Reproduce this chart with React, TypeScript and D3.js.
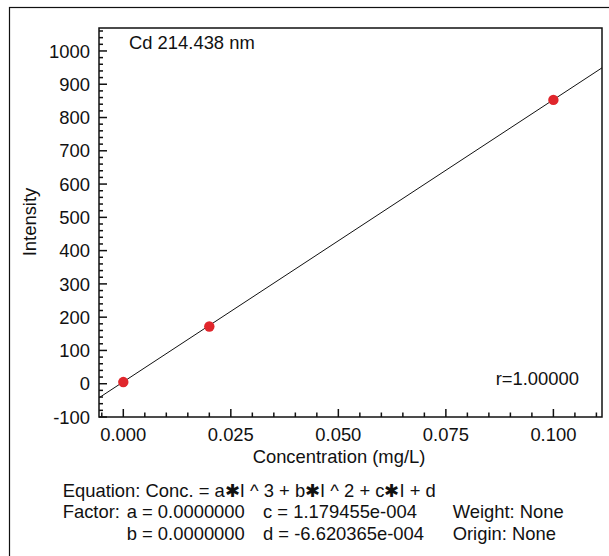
import React from "react";
import * as d3 from "d3";

const concentrations = [0.0, 0.02, 0.1];
const intensities = [5, 172, 853];
const xTicks = [0.0, 0.025, 0.05, 0.075, 0.1];
const yTicks = [-100, 0, 100, 200, 300, 400, 500, 600, 700, 800, 900, 1000];
const coefC = 1.179455e-4;
const coefD = -6.620365e-4;
const title = "Cd 214.438 nm";
const rText = "r=1.00000";
const xLabel = "Concentration (mg/L)";
const yLabel = "Intensity";

const W = 609;
const H = 556;
const left = 99;
const right = 602;
const top = 28;
const bottom = 417;
const FONT = "'Liberation Sans', Arial, sans-serif";
const FS = 18.4;

export default function App() {
  const x = d3.scaleLinear().domain([-0.00565, 0.1113]).range([left, right]);
  const y = d3.scaleLinear().domain([-100, 1069]).range([bottom, top]);

  const xMinor = d3.range(-0.005, 0.1113, 0.005).filter(
    (v) => !xTicks.some((t) => Math.abs(t - v) < 1e-9)
  );
  const yMinor = d3.range(-80, 1069, 20).filter((v) => Math.round(v) % 100 !== 0);

  const lineX = x.domain();
  const linePts: [number, number][] = lineX.map((c) => [c, (c - coefD) / coefC]);
  const line = d3
    .line<[number, number]>()
    .x((d) => x(d[0]))
    .y((d) => y(d[1]));

  return (
    <svg
      width={W}
      height={H}
      style={{ position: "absolute", left: 0, top: 0, background: "#fff" }}
      fontFamily={FONT}
    >
      <rect x={0} y={0} width={W} height={H} fill="#fff" />
      <rect x={9.5} y={7.5} width={W + 10} height={H + 10} fill="none" stroke="#111" strokeWidth={1.2} />

      <defs>
        <clipPath id="plotclip">
          <rect x={left} y={top} width={right - left} height={bottom - top} />
        </clipPath>
      </defs>

      {/* fit line */}
      <path d={line(linePts) || ""} fill="none" stroke="#111" strokeWidth={1} clipPath="url(#plotclip)" />

      {/* points */}
      {concentrations.map((c, i) => (
        <circle key={i} cx={x(c)} cy={y(intensities[i])} r={5.2} fill="#e0262c" />
      ))}

      {/* plot frame */}
      <rect x={left} y={top} width={right - left} height={bottom - top} fill="none" stroke="#111" strokeWidth={1.5} />

      {/* y ticks */}
      {yTicks.map((t) => (
        <g key={"y" + t}>
          <line x1={left} x2={left + 8} y1={y(t)} y2={y(t)} stroke="#111" strokeWidth={1.5} />
          <text x={90} y={y(t)} dy="0.36em" textAnchor="end" fontSize={FS} fill="#111">
            {t}
          </text>
        </g>
      ))}
      {yMinor.map((t) => (
        <line key={"ym" + t} x1={left} x2={left + 4} y1={y(t)} y2={y(t)} stroke="#111" strokeWidth={1.5} />
      ))}

      {/* x ticks */}
      {xTicks.map((t) => (
        <g key={"x" + t}>
          <line x1={x(t)} x2={x(t)} y1={bottom} y2={bottom - 8} stroke="#111" strokeWidth={1.5} />
          <text x={x(t)} y={441} textAnchor="middle" fontSize={FS} fill="#111">
            {t.toFixed(3)}
          </text>
        </g>
      ))}
      {xMinor.map((t) => (
        <line key={"xm" + t} x1={x(t)} x2={x(t)} y1={bottom} y2={bottom - 4.5} stroke="#111" strokeWidth={1.5} />
      ))}

      {/* labels */}
      <text x={129} y={48.5} fontSize={FS} fill="#111">{title}</text>
      <text x={579} y={385} textAnchor="end" fontSize={FS} fill="#111">{rText}</text>
      <text x={339} y={463} textAnchor="middle" fontSize={FS} fill="#111">{xLabel}</text>
      <text transform="translate(36,222) rotate(-90)" textAnchor="middle" fontSize={FS} fill="#111">{yLabel}</text>

      {/* equation block */}
      <text x={62.7} y={496.5} fontSize={FS} fill="#111">
        Equation: Conc. = a✱I ^ 3 + b✱I ^ 2 + c✱I + d
      </text>
      <text x={62.7} y={518} fontSize={FS} fill="#111">Factor:</text>
      <text x={126.7} y={518} fontSize={FS} fill="#111">a = 0.0000000</text>
      <text x={263} y={518} fontSize={FS} fill="#111">c = 1.179455e-004</text>
      <text x={452.7} y={518} fontSize={FS} fill="#111">Weight: None</text>
      <text x={126.7} y={539.5} fontSize={FS} fill="#111">b = 0.0000000</text>
      <text x={263} y={539.5} fontSize={FS} fill="#111">d = -6.620365e-004</text>
      <text x={452.7} y={539.5} fontSize={FS} fill="#111">Origin: None</text>
    </svg>
  );
}
